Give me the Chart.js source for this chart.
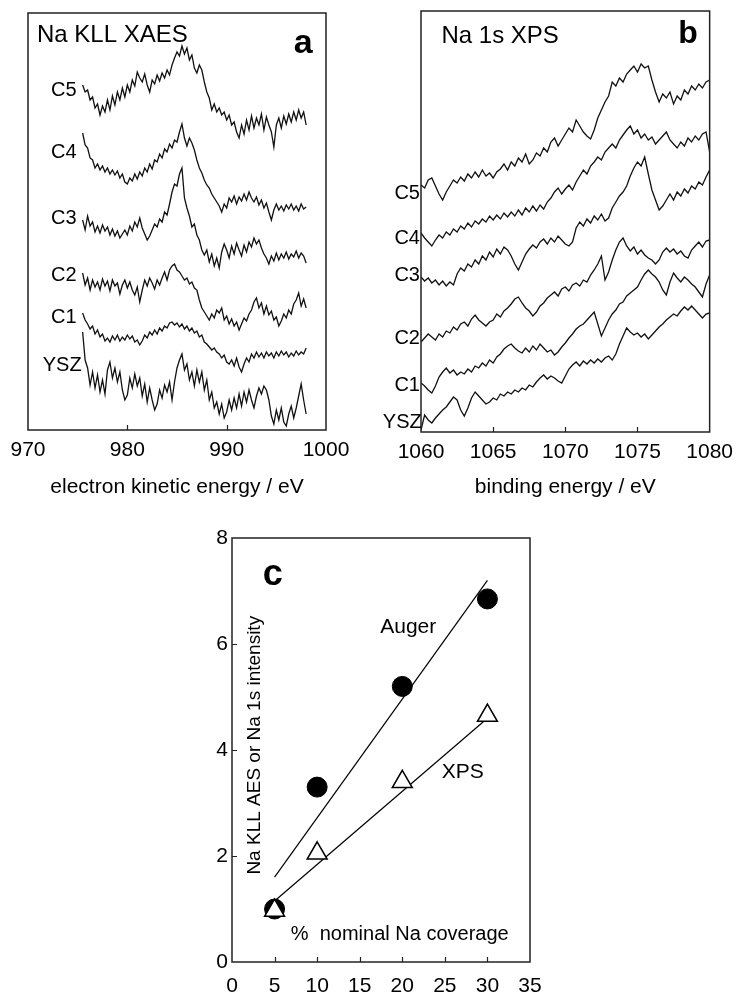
<!DOCTYPE html>
<html>
<head>
<meta charset="utf-8">
<script src="https://cdn.jsdelivr.net/npm/chart.js@4/dist/chart.umd.min.js"></script>
<style>
  body { margin: 0; background: #fff; width: 739px; height: 999px; overflow: hidden; position: relative; }
  .panel { position: absolute; }
</style>
</head>
<body>
<div class="panel" style="left:0;top:0;width:365px;height:500px"><canvas id="chartA"></canvas></div>
<div class="panel" style="left:360px;top:0;width:381px;height:500px"><canvas id="chartB"></canvas></div>
<div class="panel" style="left:0;top:500px;width:739px;height:499px"><canvas id="chartC"></canvas></div>
<script>
// --- Panel a: Na KLL XAES, energy grid 975.5 .. 998 eV, step 0.25 (offset intensity, arbitrary units)
const augerStart = 975.5, augerStep = 0.25;
const augerC5 = [345,338,340,330,333,322,326,315,324,318, 330,320,334,325,338,330,342,333,345,338,
  350,344,358,352,348,356,345,338,350,346, 355,349,357,352,360,355,365,372,378,374,
  384,376,382,370,375,362,357,365,360,348, 338,332,320,326,318,322,315,318,310,315,
  305,308,298,292,305,296,310,300,314,302, 312,305,316,300,313,305,298,283,305,312,
  302,314,306,316,308,318,310,320,312,318, 305];
const augerC4 = [297,285,282,272,270,262,266,260,264,258, 262,256,260,255,259,252,256,248,246,252,
  249,256,251,258,254,262,258,266,261,270, 268,276,272,281,278,286,282,290,288,298,
  306,292,284,292,287,280,270,262,257,250, 245,242,236,232,228,224,218,226,222,232,
  228,234,226,233,229,236,230,238,232,228, 233,225,230,222,227,218,210,220,226,220,
  224,219,225,221,226,220,224,219,226,221, 223];
const augerC3 = [210,200,214,204,208,198,204,197,205,199, 203,195,201,194,199,192,196,200,195,204,
  199,208,203,212,202,196,190,194,200,206, 203,211,208,218,215,226,238,246,244,256,
  262,232,222,214,203,206,195,190,180,175, 180,168,176,164,172,162,178,186,180,172,
  184,176,187,180,174,185,178,188,183,192, 186,190,182,176,172,166,174,169,177,170,
  176,172,178,171,176,173,179,172,177,174, 167];
const augerC2 = [157,145,152,140,150,143,148,140,151,144, 149,139,150,144,147,136,145,150,142,148,
  140,135,143,128,140,150,144,152,147,141, 150,145,152,158,150,160,164,166,160,158,
  154,150,152,146,148,142,140,130,122,118, 114,110,116,112,120,117,122,110,114,106,
  111,104,108,100,106,112,109,116,120,128, 132,122,127,116,124,115,119,110,113,104,
  109,116,112,120,116,126,130,137,124,131, 122];
const augerC1 = [117,110,106,101,104,96,100,93,96,89, 92,88,94,90,95,89,93,90,95,91,
  94,88,90,85,89,95,92,98,95,100, 96,102,99,104,102,107,108,105,107,103,
  106,101,104,99,102,97,99,93,95,88, 86,83,80,82,78,76,72,75,68,66,
  70,64,72,63,58,66,72,68,76,72, 78,73,77,72,78,74,77,72,78,74,
  79,75,78,73,77,74,79,75,78,76, 82];
const augerYSZ = [98,70,62,45,58,42,55,38,50,36, 60,68,52,62,48,58,40,30,35,52,
  42,56,44,52,34,46,28,42,30,20, 26,40,32,45,38,48,30,48,62,70,
  76,60,66,50,58,44,60,48,58,40, 50,30,38,22,28,16,26,12,18,30,
  20,32,22,36,24,38,28,40,30,22, 34,42,36,44,40,30,14,6,20,10,
  22,8,4,16,24,12,22,34,46,30, 16];

// --- Panel b: Na 1s XPS, binding energy grid 1060 .. 1080 eV, step 0.25
const xpsStart = 1060, xpsStep = 0.25;
const xpsC5 = [247,244,252,254,246,238,232,240,246,252, 249,255,251,258,254,260,255,262,256,259,
  254,260,263,268,262,270,266,274,270,278, 268,272,279,276,284,280,290,294,286,292,
  298,304,300,312,306,300,296,293,302,314, 322,330,336,350,346,354,350,358,362,366,
  360,368,364,366,352,340,330,338,334,340, 328,336,332,342,338,346,342,348,344,350, 352];
const xpsC4 = [199,194,190,186,192,197,194,200,197,203, 200,206,203,209,205,211,208,213,210,216,
  212,217,213,219,215,220,216,222,217,224, 220,226,221,227,223,230,234,240,244,238,
  243,247,242,250,256,262,258,266,270,275, 272,280,284,288,284,292,297,302,306,298,
  302,294,298,292,295,288,292,296,300,292, 288,284,290,286,294,290,296,292,298,300, 280];
const xpsC3 = [155,151,154,149,152,147,151,146,150,147, 158,164,161,168,165,172,168,176,172,180,
  175,183,178,185,182,176,168,162,170,178, 183,187,184,190,193,188,194,190,196,192,
  188,186,190,204,210,206,213,209,216,212, 218,211,214,224,230,236,240,246,256,264,
  270,266,275,258,242,232,222,226,232,238, 232,240,236,243,239,246,243,250,247,255, 262];
const xpsC2 = [90,94,98,95,92,98,95,101,99,105, 102,108,110,106,113,117,112,109,106,110,
  112,118,115,121,124,128,133,135,129,124, 121,116,120,126,129,134,137,140,136,143,
  145,141,147,149,146,152,150,157,162,168, 176,152,160,172,182,190,194,186,181,185,
  178,182,177,174,172,168,172,180,184,180, 183,178,181,176,174,182,186,190,185,191, 192];
const xpsC1 = [49,46,42,39,46,55,60,64,59,62, 57,60,58,63,60,66,64,69,66,72,
  69,75,78,83,86,88,84,81,79,84, 80,86,82,88,84,80,82,77,80,85,
  89,94,98,103,106,108,112,116,120,108, 96,104,112,118,122,128,130,136,139,142,
  145,152,158,162,158,155,150,142,137,150, 159,154,150,155,152,148,145,140,135,148, 157];
const xpsYSZ = [2,17,12,9,14,18,22,25,30,35, 32,22,16,24,34,40,36,32,28,30,
  34,32,38,36,40,38,42,40,44,42, 47,45,50,54,57,53,56,54,51,49,
  56,63,67,70,66,71,68,72,69,73, 70,74,76,72,78,88,96,104,100,97,
  99,95,98,93,97,101,105,108,112,115, 118,116,121,125,122,126,122,118,114,118, 119];

const sampleNames = ['C5', 'C4', 'C3', 'C2', 'C1', 'YSZ'];

// --- Panel c: intensity vs nominal Na coverage
const coverage = [5, 10, 20, 30];
const augerIntensity = [1.0, 3.3, 5.2, 6.85];
const xpsIntensity = [0.97, 2.05, 3.4, 4.65];
const fitX = [5, 30];
const augerFitY = [1.6, 7.2];
const xpsFitY = [1.15, 4.6];

const FONT = '"Liberation Sans", Arial, sans-serif';
Chart.defaults.font.family = FONT;
Chart.defaults.color = '#000';

function toPoints(start, step, values) {
  return values.map((v, i) => ({ x: start + step * i, y: v }));
}

function spectrum(label, start, step, values) {
  return {
    label, data: toPoints(start, step, values),
    borderColor: '#111', borderWidth: 1.3, pointRadius: 0, tension: 0, fill: false
  };
}

// frame box, inward ticks and free text, all placed through the chart scales
const framePlugin = {
  id: 'frame',
  afterDatasetsDraw(chart, args, opts) {
    const { ctx, chartArea: a, scales } = chart;
    ctx.save();
    ctx.strokeStyle = '#222';
    ctx.lineWidth = 1.5;
    ctx.strokeRect(a.left, a.top, a.right - a.left, a.bottom - a.top);
    ctx.lineWidth = 1.2;
    ctx.beginPath();
    (opts.xTicks || []).forEach(v => {
      const px = Math.round(scales.x.getPixelForValue(v)) + 0.5;
      ctx.moveTo(px, a.bottom); ctx.lineTo(px, a.bottom - 5);
    });
    (opts.yTicks || []).forEach(v => {
      const py = Math.round(scales.y.getPixelForValue(v)) + 0.5;
      ctx.moveTo(a.left, py); ctx.lineTo(a.left + 5, py);
    });
    ctx.stroke();
    ctx.fillStyle = '#000';
    (opts.labels || []).forEach(l => {
      const px = scales.x.getPixelForValue(l.x);
      const py = scales.y.getPixelForValue(l.y);
      ctx.font = (l.bold ? 'bold ' : '') + l.size + 'px ' + FONT;
      ctx.textAlign = l.align || 'left';
      ctx.textBaseline = l.baseline || 'middle';
      ctx.save();
      ctx.translate(px, py);
      if (l.rotate) ctx.rotate(l.rotate);
      ctx.fillText(l.text, 0, 0);
      ctx.restore();
    });
    ctx.restore();
  }
};

function energyAxis(min, max, step, title, height) {
  return {
    type: 'linear', min, max,
    grid: { display: false, drawTicks: false },
    border: { display: false },
    ticks: { stepSize: step, font: { size: 21 }, padding: 8, maxRotation: 0, autoSkip: false,
             callback: v => String(v) },
    title: { display: true, text: title, font: { size: 21 }, padding: 0 },
    afterFit: s => { s.height = height; }
  };
}

// Panel a
new Chart(document.getElementById('chartA'), {
  type: 'line',
  data: { datasets: [augerC5, augerC4, augerC3, augerC2, augerC1, augerYSZ]
    .map((vals, i) => spectrum(sampleNames[i], augerStart, augerStep, vals)) },
  options: {
    responsive: true, maintainAspectRatio: false, animation: false,
    layout: { padding: { left: 28, top: 13, right: 39, bottom: 0 } },
    scales: {
      x: energyAxis(970, 1000, 10, 'electron kinetic energy / eV', 70),
      y: { type: 'linear', display: false, min: 0, max: 417 }
    },
    plugins: {
      legend: { display: false }, tooltip: { enabled: false },
      frame: {
        xTicks: [980, 990],
        labels: [
          { text: 'Na KLL XAES', x: 970.9, y: 388, size: 24, baseline: 'alphabetic' },
          { text: 'a', x: 997.7, y: 377, size: 34, bold: true, align: 'center', baseline: 'alphabetic' },
          { text: 'C5', x: 974.9, y: 340, size: 20, align: 'right' },
          { text: 'C4', x: 974.9, y: 278, size: 20, align: 'right' },
          { text: 'C3', x: 974.9, y: 212, size: 20, align: 'right' },
          { text: 'C2', x: 974.9, y: 155, size: 20, align: 'right' },
          { text: 'C1', x: 974.9, y: 113, size: 20, align: 'right' },
          { text: 'YSZ', x: 975.4, y: 65, size: 20, align: 'right' }
        ]
      }
    }
  },
  plugins: [framePlugin]
});

// Panel b
new Chart(document.getElementById('chartB'), {
  type: 'line',
  data: { datasets: [xpsC5, xpsC4, xpsC3, xpsC2, xpsC1, xpsYSZ]
    .map((vals, i) => spectrum(sampleNames[i], xpsStart, xpsStep, vals)) },
  options: {
    responsive: true, maintainAspectRatio: false, animation: false,
    layout: { padding: { left: 61, top: 11, right: 24, bottom: 0 } },
    scales: {
      x: energyAxis(1060, 1080, 5, 'binding energy / eV', 68),
      y: { type: 'linear', display: false, min: 0, max: 421 }
    },
    plugins: {
      legend: { display: false }, tooltip: { enabled: false },
      frame: {
        xTicks: [1065, 1070, 1075],
        labels: [
          { text: 'Na 1s XPS', x: 1061.42, y: 389, size: 24, baseline: 'alphabetic' },
          { text: 'b', x: 1078.5, y: 389, size: 32, bold: true, align: 'center', baseline: 'alphabetic' },
          { text: 'C5', x: 1059.93, y: 239, size: 20, align: 'right' },
          { text: 'C4', x: 1059.93, y: 194, size: 20, align: 'right' },
          { text: 'C3', x: 1059.93, y: 157, size: 20, align: 'right' },
          { text: 'C2', x: 1059.93, y: 94, size: 20, align: 'right' },
          { text: 'C1', x: 1059.93, y: 47, size: 20, align: 'right' },
          { text: 'YSZ', x: 1060.05, y: 10, size: 20, align: 'right' }
        ]
      }
    }
  },
  plugins: [framePlugin]
});

// Panel c
const pts = (xs, ys) => ys.map((y, i) => ({ x: xs[i], y }));
new Chart(document.getElementById('chartC'), {
  type: 'scatter',
  data: {
    datasets: [
      { label: 'XPS', data: pts(coverage, xpsIntensity), pointStyle: 'triangle', pointRadius: 11.5,
        backgroundColor: '#fff', borderColor: '#000', borderWidth: 1.5, order: 0 },
      { label: 'Auger', data: pts(coverage, augerIntensity), pointStyle: 'circle', pointRadius: 10,
        backgroundColor: '#000', borderColor: '#000', borderWidth: 1, order: 1 },
      { label: 'Auger fit', type: 'line', data: pts(fitX, augerFitY), borderColor: '#000',
        borderWidth: 1.2, pointRadius: 0, order: 2 },
      { label: 'XPS fit', type: 'line', data: pts(fitX, xpsFitY), borderColor: '#000',
        borderWidth: 1.2, pointRadius: 0, order: 2 }
    ]
  },
  options: {
    responsive: true, maintainAspectRatio: false, animation: false,
    layout: { padding: { left: 202, top: 38, right: 209, bottom: 0 } },
    scales: {
      x: { type: 'linear', min: 0, max: 35,
           grid: { display: false, drawTicks: false }, border: { display: false },
           ticks: { stepSize: 5, font: { size: 21 }, padding: 12, maxRotation: 0 },
           afterFit: s => { s.height = 37; } },
      y: { type: 'linear', min: 0, max: 8,
           grid: { display: false, drawTicks: false }, border: { display: false },
           ticks: { stepSize: 2, font: { size: 21 }, padding: 4 },
           afterFit: s => { s.width = 30; } }
    },
    plugins: {
      legend: { display: false }, tooltip: { enabled: false },
      frame: {
        xTicks: [5, 10, 15, 20, 25, 30],
        yTicks: [2, 4, 6],
        labels: [
          { text: 'c', x: 4.8, y: 7.11, size: 36, bold: true, align: 'center', baseline: 'alphabetic' },
          { text: 'Auger', x: 20.7, y: 6.32, size: 21, align: 'center' },
          { text: 'XPS', x: 27.1, y: 3.58, size: 21, align: 'center' },
          { text: '%  nominal Na coverage', x: 19.7, y: 0.51, size: 20, align: 'center' },
          { text: 'Na KLL AES or Na 1s intensity', x: 2.7, y: 4.09, size: 19, align: 'center', rotate: -Math.PI / 2 }
        ]
      }
    }
  },
  plugins: [framePlugin]
});
</script>
</body>
</html>
